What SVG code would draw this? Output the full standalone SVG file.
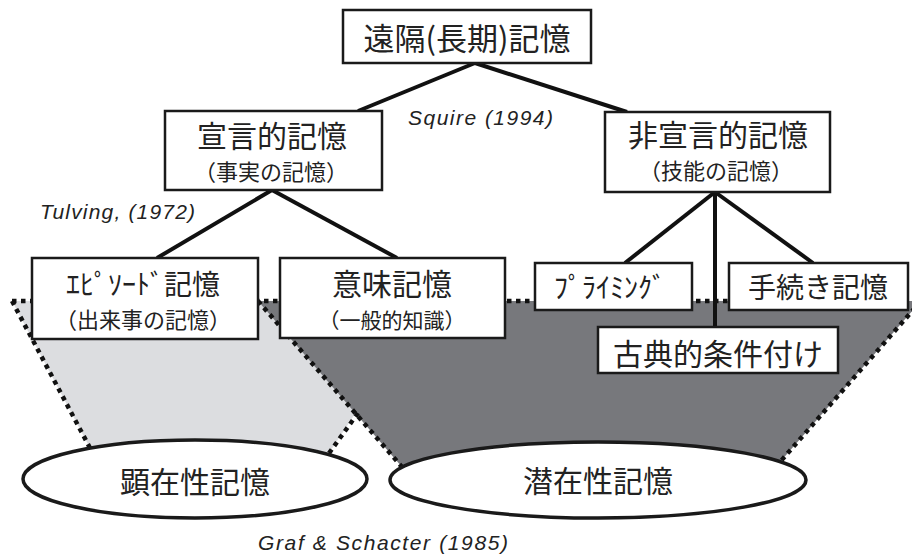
<svg xmlns="http://www.w3.org/2000/svg" width="912" height="556" viewBox="0 0 912 556">
<style>
.box{fill:#fff;stroke:#1a1a1a;stroke-width:2.5}
.ell{fill:#fff;stroke:#1a1a1a;stroke-width:3.5}
.conn{stroke:#111;stroke-width:4;fill:none;stroke-linecap:butt}
.dot{stroke:#111;stroke-width:4.5;stroke-dasharray:4.5 4.5;fill:none}
.jp{font-family:"Noto Sans CJK JP","Noto Sans",sans-serif;fill:#222;text-anchor:middle}
.cite{font-family:"Liberation Sans",Arial,sans-serif;font-style:italic;fill:#222}
</style>
<g id="regions">
<polygon points="12,301 430,301 327,456 90,448" fill="#dcdde0"/>
<polygon points="258,301 921,301 780,462 402,467" fill="#77787c"/>
<line class="dot" x1="12" y1="301" x2="912" y2="301"/>
<line class="dot" x1="12" y1="301" x2="90" y2="448"/>
<line class="dot" x1="358" y1="413" x2="327" y2="456"/>
<line class="dot" x1="258" y1="301" x2="402" y2="467"/>
<line class="dot" x1="921" y1="301" x2="780" y2="462"/>
</g>
<g id="connectors">
<line class="conn" x1="475" y1="63" x2="358" y2="111"/>
<line class="conn" x1="475" y1="63" x2="627" y2="112"/>
<line class="conn" x1="272" y1="190" x2="157" y2="258"/>
<line class="conn" x1="272" y1="190" x2="397" y2="258"/>
<line class="conn" x1="715" y1="192" x2="625" y2="263"/>
<line class="conn" x1="715" y1="192" x2="813" y2="263"/>
<line class="conn" x1="715" y1="192" x2="715" y2="327"/>
</g>
<g id="n-explicit">
<ellipse class="ell" cx="195" cy="479" rx="172" ry="39"/>
<text class="jp" x="195" y="493" font-size="30">顕在性記憶</text>
</g>
<g id="n-implicit">
<ellipse class="ell" cx="598" cy="480" rx="208" ry="38"/>
<text class="jp" x="598" y="492" font-size="30">潜在性記憶</text>
</g>
<g id="n-longterm">
<rect class="box" x="343" y="10" width="248" height="53"/>
<text class="jp" x="467" y="50" font-size="31">遠隔(長期)記憶</text>
</g>
<g id="n-declarative">
<rect class="box" x="165" y="111" width="217" height="79"/>
<text class="jp" x="272" y="147" font-size="30">宣言的記憶</text>
<text class="jp" x="271" y="180" font-size="22">（事実の記憶）</text>
</g>
<g id="n-nondeclarative">
<rect class="box" x="605" y="112" width="225" height="80"/>
<text class="jp" x="718" y="146" font-size="30">非宣言的記憶</text>
<text class="jp" x="716" y="179" font-size="22">（技能の記憶）</text>
</g>
<g id="n-episodic">
<rect class="box" x="32" y="258" width="226" height="81"/>
<text class="jp" x="143" y="295" font-size="28">ｴﾋﾟｿｰﾄﾞ記憶</text>
<text class="jp" x="143" y="328" font-size="22">（出来事の記憶）</text>
</g>
<g id="n-semantic">
<rect class="box" x="280" y="258" width="225" height="80"/>
<text class="jp" x="392" y="295" font-size="30">意味記憶</text>
<text class="jp" x="392" y="328" font-size="21">（一般的知識）</text>
</g>
<g id="n-priming">
<rect class="box" x="535" y="263" width="157" height="47"/>
<text class="jp" x="610" y="298" font-size="28">ﾌﾟﾗｲﾐﾝｸﾞ</text>
</g>
<g id="n-procedural">
<rect class="box" x="729" y="263" width="179" height="47"/>
<text class="jp" x="818" y="298" font-size="28">手続き記憶</text>
</g>
<g id="n-classical">
<rect class="box" x="598" y="327" width="240" height="46"/>
<text class="jp" x="718" y="365" font-size="30">古典的条件付け</text>
</g>
<g id="labels">
<text class="cite" x="408" y="125" font-size="21" textLength="145" lengthAdjust="spacing">Squire (1994)</text>
<text class="cite" x="40" y="219" font-size="21" textLength="155" lengthAdjust="spacing">Tulving, (1972)</text>
<text class="cite" x="258" y="550" font-size="21" textLength="250" lengthAdjust="spacing">Graf &amp; Schacter (1985)</text>
</g>
</svg>
